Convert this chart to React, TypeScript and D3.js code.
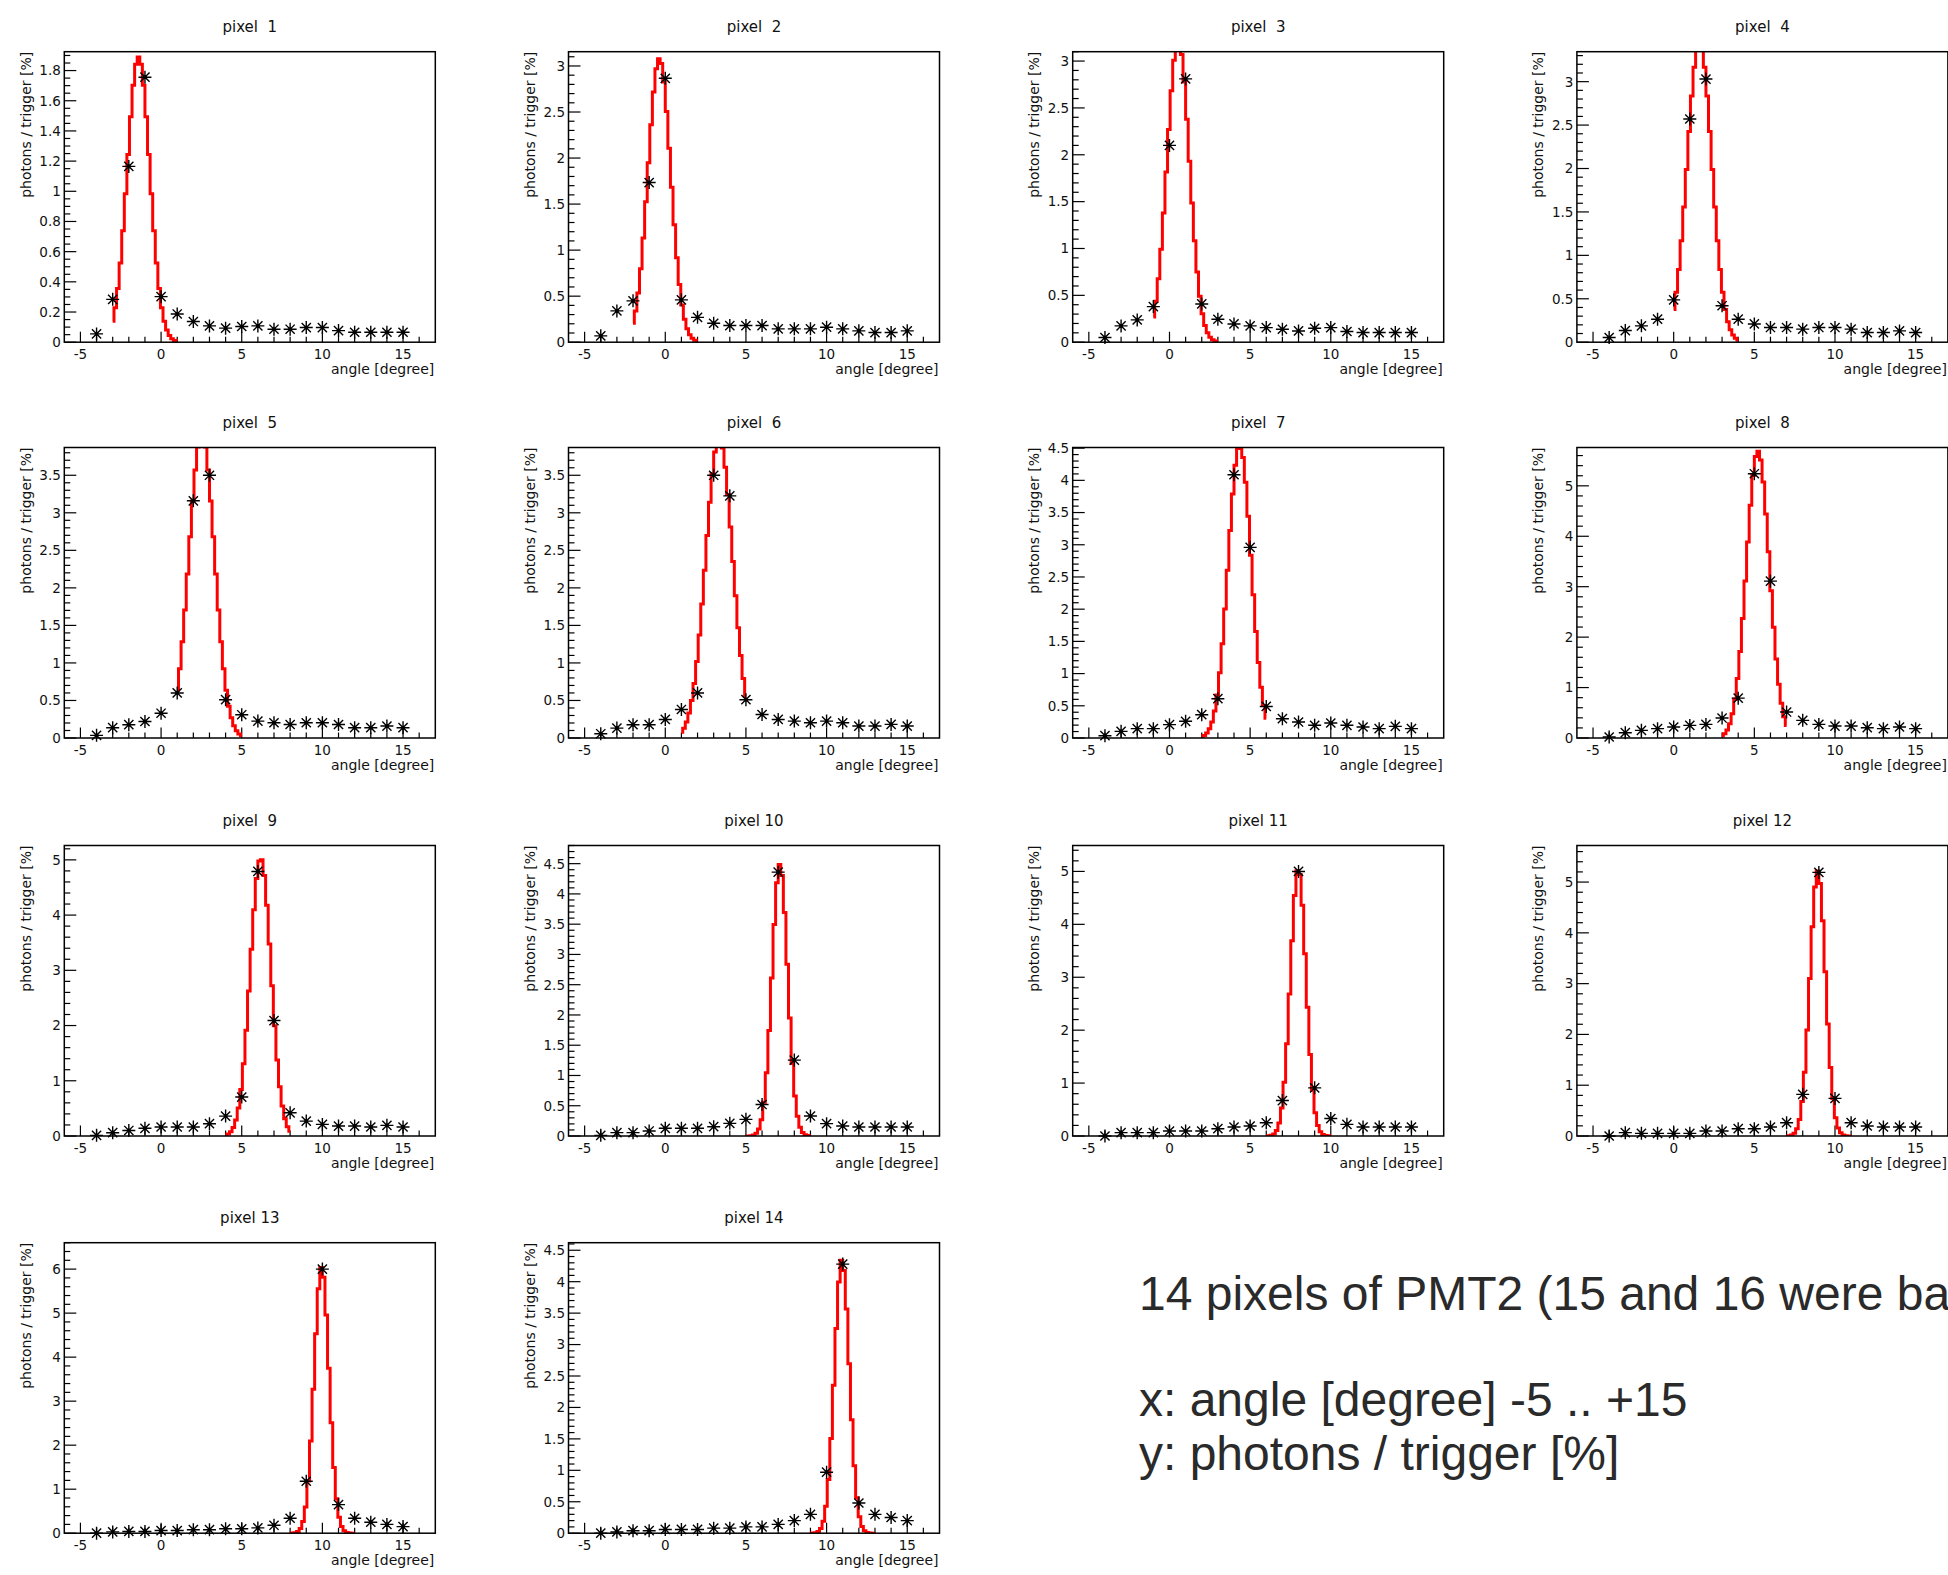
import React from 'react';
import * as d3 from 'd3';

// ---------- data ----------
const angles = [-4, -3, -2, -1, 0, 1, 2, 3, 4, 5, 6, 7, 8, 9, 10, 11, 12, 13, 14, 15];

const pixel1 = [0.055, 0.284, 1.165, 1.756, 0.302, 0.187, 0.137, 0.108, 0.093, 0.104, 0.108, 0.086, 0.086, 0.097, 0.097, 0.077, 0.066, 0.066, 0.066, 0.066];
const pixel2 = [0.069, 0.34, 0.449, 1.734, 2.866, 0.46, 0.27, 0.206, 0.181, 0.181, 0.181, 0.145, 0.145, 0.145, 0.163, 0.145, 0.123, 0.105, 0.105, 0.123];
const pixel3 = [0.05, 0.174, 0.238, 0.38, 2.1, 2.81, 0.408, 0.245, 0.195, 0.174, 0.156, 0.138, 0.12, 0.149, 0.156, 0.114, 0.103, 0.103, 0.103, 0.103];
const pixel4 = [0.054, 0.134, 0.188, 0.265, 0.487, 2.57, 3.03, 0.42, 0.265, 0.21, 0.169, 0.169, 0.15, 0.169, 0.169, 0.15, 0.111, 0.111, 0.13, 0.111];
const pixel5 = [0.035, 0.137, 0.177, 0.22, 0.33, 0.6, 3.16, 3.5, 0.51, 0.31, 0.225, 0.203, 0.18, 0.203, 0.203, 0.18, 0.137, 0.137, 0.159, 0.137];
const pixel6 = [0.057, 0.132, 0.177, 0.177, 0.247, 0.38, 0.6, 3.5, 3.226, 0.51, 0.313, 0.247, 0.225, 0.203, 0.225, 0.203, 0.159, 0.159, 0.181, 0.159];
const pixel7 = [0.036, 0.103, 0.145, 0.145, 0.207, 0.259, 0.362, 0.61, 4.087, 2.96, 0.49, 0.3, 0.248, 0.197, 0.233, 0.197, 0.171, 0.145, 0.181, 0.145];
const pixel8 = [0.02, 0.105, 0.152, 0.185, 0.218, 0.25, 0.27, 0.396, 0.79, 5.24, 3.11, 0.515, 0.35, 0.27, 0.237, 0.237, 0.204, 0.185, 0.218, 0.185];
const pixel9 = [0.012, 0.06, 0.1, 0.139, 0.163, 0.163, 0.163, 0.223, 0.36, 0.705, 4.79, 2.09, 0.42, 0.27, 0.21, 0.18, 0.18, 0.163, 0.193, 0.163];
const pixel10 = [0.011, 0.055, 0.055, 0.083, 0.127, 0.127, 0.127, 0.154, 0.209, 0.275, 0.52, 4.36, 1.254, 0.33, 0.204, 0.165, 0.149, 0.149, 0.149, 0.149];
const pixel11 = [0.0, 0.063, 0.063, 0.063, 0.094, 0.094, 0.094, 0.138, 0.17, 0.189, 0.25, 0.67, 5.0, 0.91, 0.33, 0.22, 0.17, 0.17, 0.17, 0.17];
const pixel12 = [0.0, 0.066, 0.052, 0.052, 0.052, 0.052, 0.098, 0.098, 0.144, 0.144, 0.177, 0.262, 0.82, 5.19, 0.74, 0.262, 0.197, 0.177, 0.177, 0.177];
const pixel13 = [0.0, 0.03, 0.04, 0.04, 0.06, 0.06, 0.08, 0.08, 0.1, 0.1, 0.12, 0.18, 0.34, 1.18, 6.0, 0.65, 0.34, 0.25, 0.2, 0.15];
const pixel14 = [0.0, 0.02, 0.04, 0.04, 0.06, 0.06, 0.06, 0.08, 0.08, 0.1, 0.1, 0.14, 0.2, 0.3, 0.97, 4.28, 0.48, 0.3, 0.25, 0.2];

const pixelValues = [pixel1, pixel2, pixel3, pixel4, pixel5, pixel6, pixel7, pixel8, pixel9, pixel10, pixel11, pixel12, pixel13, pixel14];
const pixelTitles = ['pixel  1', 'pixel  2', 'pixel  3', 'pixel  4', 'pixel  5', 'pixel  6', 'pixel  7', 'pixel  8', 'pixel  9', 'pixel 10', 'pixel 11', 'pixel 12', 'pixel 13', 'pixel 14'];

// y axis ranges / tick steps per panel
const yMax = [1.925, 3.155, 3.1, 3.345, 3.87, 3.87, 4.51, 5.76, 5.26, 4.8, 5.49, 5.72, 6.6, 4.62];
const yMajorStep = [0.2, 0.5, 0.5, 0.5, 0.5, 0.5, 0.5, 1, 1, 0.5, 1, 1, 1, 0.5];
const yMinorStep = [0.05, 0.1, 0.1, 0.1, 0.1, 0.1, 0.1, 0.2, 0.2, 0.1, 0.2, 0.2, 0.2, 0.1];

// gaussian fit parameters per panel
const fitAmp = [1.89, 3.08, 3.23, 3.46, 4.06, 4.0, 4.55, 5.69, 5.03, 4.49, 5.05, 5.22, 6.05, 4.35];
const fitMean = [-1.4, -0.37, 0.54, 1.6, 2.52, 3.34, 4.35, 5.22, 6.17, 7.1, 7.98, 8.93, 9.95, 10.95];
const fitSigma = [0.7, 0.7, 0.69, 0.76, 0.79, 0.834, 0.71, 0.71, 0.64, 0.48, 0.48, 0.48, 0.46, 0.46];
const fitLo = [-3, -2, -1, 0, 1, 1, 2, 3, 4, 5, 6, 7, 8, 9];
const fitHi = [1, 2, 3, 4, 5, 5, 6, 7, 8, 9, 10, 11, 12, 13];

const xDomain = [-6, 17];
const xMajorTicks = [-5, 0, 5, 10, 15];
const xMinorTicks = [-4, -3, -2, -1, 1, 2, 3, 4, 6, 7, 8, 9, 11, 12, 13, 14, 16];

const xAxisTitle = 'angle [degree]';
const yAxisTitle = 'photons / trigger [%]';

const noteLines = ['14 pixels of PMT2 (15 and 16 were bad)', 'x: angle [degree] -5 .. +15', 'y: photons / trigger [%]'];

// ---------- layout ----------
const W = 371;
const H = 290.5;
const colLeft = [64.3, 568.5, 1072.7, 1576.9];
const rowTop = [51.7, 447.5, 845.5, 1242.7];
const FONT = '"DejaVu Sans", Arial, sans-serif';
const NOTE_FONT = '"Liberation Sans", Arial, sans-serif';
const STEP_DEG = 0.16;

const fmt = (v: number) => String(Math.round(v * 100) / 100);

function Panel({ idx }: { idx: number }) {
  const L = colLeft[idx % 4];
  const T = rowTop[Math.floor(idx / 4)];
  const x = d3.scaleLinear().domain(xDomain).range([L, L + W]);
  const y = d3.scaleLinear().domain([0, yMax[idx]]).range([T + H, T]);
  const vals = pixelValues[idx];

  const majors: number[] = [];
  for (let k = 0; k * yMajorStep[idx] <= yMax[idx] + 1e-9; k++) majors.push(k * yMajorStep[idx]);
  const minors: number[] = [];
  const ratio = Math.round(yMajorStep[idx] / yMinorStep[idx]);
  for (let k = 0; k * yMinorStep[idx] <= yMax[idx] + 1e-9; k++) if (k % ratio !== 0) minors.push(k * yMinorStep[idx]);

  // fit curve (evaluation of the fitted gaussian)
  const A = fitAmp[idx], m = fitMean[idx], s = fitSigma[idx];
  const lo = fitLo[idx], hi = fitHi[idx];
  const n = Math.round((hi - lo) / STEP_DEG);
  const pts: [number, number][] = d3.range(n + 1).map((i) => {
    const xv = lo + (i * (hi - lo)) / n;
    return [xv, A * Math.exp(-((xv - m) * (xv - m)) / (2 * s * s))];
  });
  const line = d3.line<[number, number]>().x((d) => x(d[0])).y((d) => y(d[1])).curve(d3.curveStep);
  const clipId = `clip-${idx}`;

  const B = T + H;
  return (
    <g>
      <defs>
        <clipPath id={clipId}>
          <rect x={L} y={T} width={W} height={H} />
        </clipPath>
      </defs>
      <text x={L + W / 2} y={T - 20} textAnchor="middle" fontFamily={FONT} fontSize={15} fill="#111" style={{ whiteSpace: 'pre' }}>
        {pixelTitles[idx]}
      </text>
      {/* y ticks */}
      {majors.map((v) => (
        <g key={'M' + v}>
          <line x1={L} x2={L + 12} y1={y(v)} y2={y(v)} stroke="#000" strokeWidth={1.2} />
          <text x={L - 3.5} y={y(v)} dy="0.36em" textAnchor="end" fontFamily={FONT} fontSize={13.5} fill="#111">
            {fmt(v)}
          </text>
        </g>
      ))}
      {minors.map((v) => (
        <line key={'m' + v} x1={L} x2={L + 6} y1={y(v)} y2={y(v)} stroke="#000" strokeWidth={1.2} />
      ))}
      {/* x ticks */}
      {xMajorTicks.map((v) => (
        <g key={'X' + v}>
          <line x1={x(v)} x2={x(v)} y1={B} y2={B - 10.5} stroke="#000" strokeWidth={1.2} />
          <text x={x(v)} y={B + 17} textAnchor="middle" fontFamily={FONT} fontSize={13.5} fill="#111">
            {fmt(v)}
          </text>
        </g>
      ))}
      {xMinorTicks.map((v) => (
        <line key={'x' + v} x1={x(v)} x2={x(v)} y1={B} y2={B - 5.5} stroke="#000" strokeWidth={1.2} />
      ))}
      {/* fit */}
      <path d={line(pts) || ''} fill="none" stroke="#ff0000" strokeWidth={3} clipPath={`url(#${clipId})`} />
      {/* markers */}
      {vals.map((v, i) => {
        const cx = x(angles[i]);
        const cy = y(v);
        return (
          <g key={'p' + i} transform={`translate(${cx},${cy})`}>
            <path
              d="M-6.5,0H6.5M0,-6.5V6.5M-4.6,-4.6L4.6,4.6M-4.6,4.6L4.6,-4.6"
              stroke="#000"
              strokeWidth={1.4}
              fill="none"
            />
            <circle r={1.8} fill="#000" />
          </g>
        );
      })}
      {/* frame */}
      <rect x={L} y={T} width={W} height={H} fill="none" stroke="#000" strokeWidth={1.5} />
      {/* axis titles */}
      <text x={L + W - 1} y={B + 32} textAnchor="end" fontFamily={FONT} fontSize={14} fill="#111">
        {xAxisTitle}
      </text>
      <text
        transform={`translate(${L - 33.5},${T}) rotate(-90)`}
        textAnchor="end"
        fontFamily={FONT}
        fontSize={14}
        fill="#111"
      >
        {yAxisTitle}
      </text>
    </g>
  );
}

export default function App() {
  return (
    <svg
      width={1948}
      height={1575}
      viewBox="0 0 1948 1575"
      style={{ position: 'absolute', left: 0, top: 0, background: '#fff' }}
    >
      <rect x={0} y={0} width={1948} height={1575} fill="#fff" />
      {pixelValues.map((_, i) => (
        <Panel key={i} idx={i} />
      ))}
      <text x={1139} y={1310} fontFamily={NOTE_FONT} fontSize={48} fill="#2a2a2a">
        {noteLines[0]}
      </text>
      <text x={1139} y={1416} fontFamily={NOTE_FONT} fontSize={48} fill="#2a2a2a">
        {noteLines[1]}
      </text>
      <text x={1139} y={1470} fontFamily={NOTE_FONT} fontSize={48} fill="#2a2a2a">
        {noteLines[2]}
      </text>
    </svg>
  );
}
